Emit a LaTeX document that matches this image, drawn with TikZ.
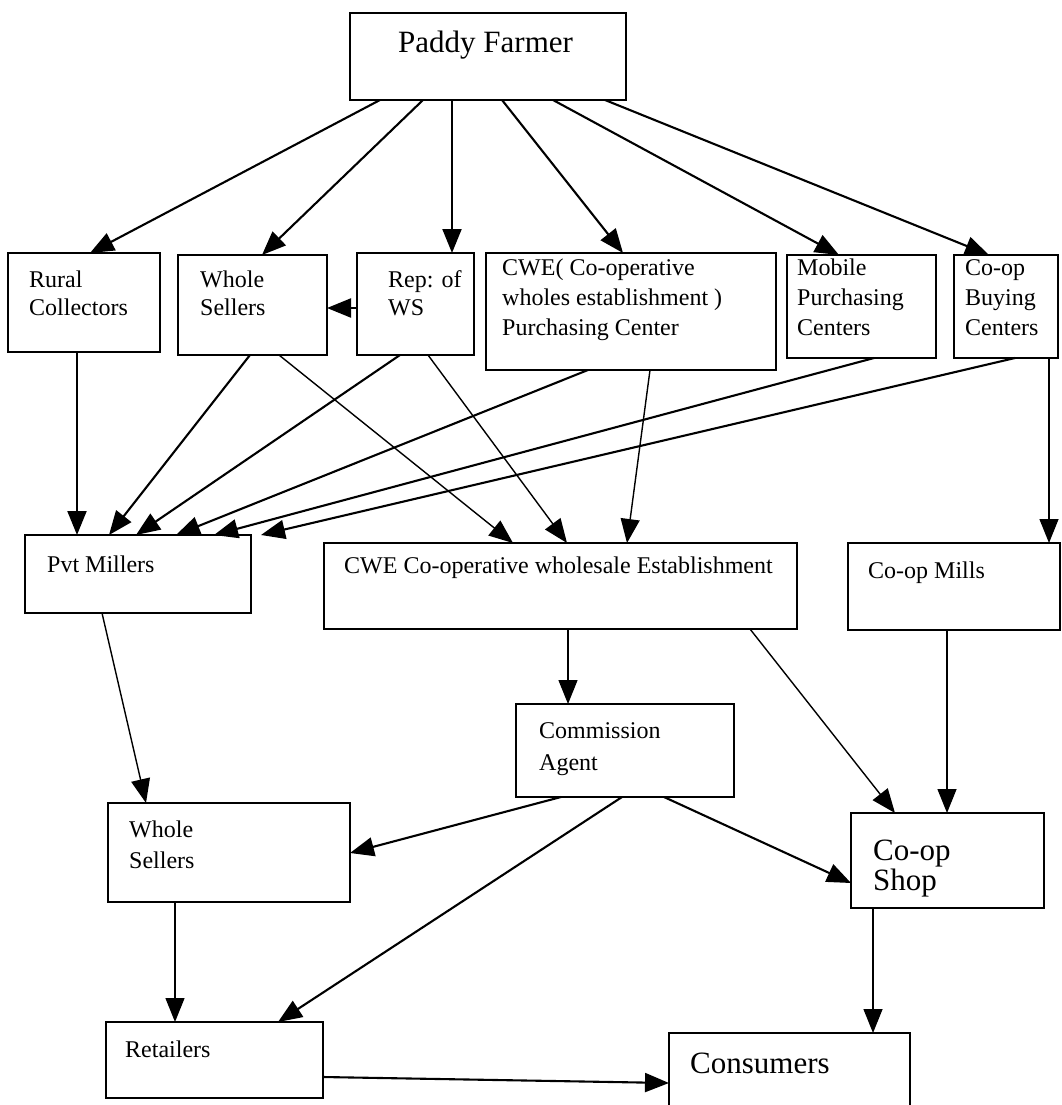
\documentclass[tikz,border=0pt]{standalone}
\usepackage{fontspec}
\setmainfont{Liberation Serif}
\usetikzlibrary{arrows.meta}

\tikzset{
  box/.style={draw, line width=1.8pt, anchor=north west, outer sep=0pt, inner sep=0pt},
  txt/.style={anchor=base west, align=left, inner sep=0pt, font=\fontsize{24}{29}\selectfont},
  bigtxt/.style={txt, font=\fontsize{31}{30}\selectfont},
  flow/.style={line width=2.1pt, -{Triangle[length=24pt,width=19pt]}},
  thinflow/.style={line width=1.4pt, -{Triangle[length=24pt,width=19pt]}}
}

\begin{document}
\begin{tikzpicture}[x=1pt,y=-1pt]
          \useasboundingbox (0,0) rectangle (1062,1105);
          % boxes
          \node[box, minimum width=276pt, minimum height=87pt] (farmer) at (350,13) {};
          \node[box, minimum width=152pt, minimum height=99pt] (rural) at (8,253) {};
          \node[box, minimum width=149pt, minimum height=100pt] (ws1) at (178,255) {};
          \node[box, minimum width=117pt, minimum height=102pt] (rep) at (357,253) {};
          \node[box, minimum width=290pt, minimum height=117pt] (cwepc) at (486,253) {};
          \node[box, minimum width=149pt, minimum height=103pt] (mobile) at (787,255) {};
          \node[box, minimum width=104pt, minimum height=103pt] (coopbuy) at (954,255) {};
          \node[box, minimum width=226pt, minimum height=78pt] (pvt) at (25,535) {};
          \node[box, minimum width=473pt, minimum height=86pt] (cweest) at (324,543) {};
          \node[box, minimum width=212pt, minimum height=87pt] (mills) at (848,543) {};
          \node[box, minimum width=218pt, minimum height=93pt] (agent) at (516,704) {};
          \node[box, minimum width=242pt, minimum height=99pt] (ws2) at (108,803) {};
          \node[box, minimum width=193pt, minimum height=95pt] (shop) at (851,813) {};
          \node[box, minimum width=217pt, minimum height=76pt] (retail) at (106,1022) {};
          \node[box, minimum width=241pt, minimum height=80pt] (consumers) at (669,1033) {};
          % texts (base = last line)
          \node[txt, font=\fontsize{31}{36}\selectfont] (farmertxt) at ([xshift=48pt,yshift=-40pt]farmer.north west) {Paddy Farmer};
          \node[txt, font=\fontsize{24}{28}\selectfont] (ruraltxt) at ([xshift=21pt,yshift=-62pt]rural.north west) {Rural\\Collectors};
          \node[txt, font=\fontsize{24}{28}\selectfont] (ws1txt) at ([xshift=22pt,yshift=-60pt]ws1.north west) {Whole\\Sellers};
          \node[txt, font=\fontsize{24}{28}\selectfont] (reptxt) at ([xshift=31pt,yshift=-62pt]rep.north west) {Rep: of\\WS};
          \node[txt, font=\fontsize{24}{30}\selectfont] (cwepctxt) at ([xshift=16pt,yshift=-82pt]cwepc.north west) {CWE( Co-operative\\wholes establishment )\\Purchasing Center};
          \node[txt, font=\fontsize{24}{30}\selectfont] (mobiletxt) at ([xshift=10pt,yshift=-80pt]mobile.north west) {Mobile\\Purchasing\\Centers};
          \node[txt, font=\fontsize{24}{30}\selectfont] (coopbuytxt) at ([xshift=11pt,yshift=-80pt]coopbuy.north west) {Co-op\\Buying\\Centers};
          \node[txt] (pvttxt) at ([xshift=22pt,yshift=-37pt]pvt.north west) {Pvt Millers};
          \node[txt] (cweesttxt) at ([xshift=20pt,yshift=-30pt]cweest.north west) {CWE Co-operative wholesale Establishment};
          \node[txt] (millstxt) at ([xshift=20pt,yshift=-35pt]mills.north west) {Co-op Mills};
          \node[txt, font=\fontsize{24}{32}\selectfont] (agenttxt) at ([xshift=23pt,yshift=-66pt]agent.north west) {Commission\\Agent};
          \node[txt, font=\fontsize{24}{31}\selectfont] (ws2txt) at ([xshift=21pt,yshift=-65pt]ws2.north west) {Whole\\Sellers};
          \node[bigtxt] (shoptxt) at ([xshift=22pt,yshift=-77pt]shop.north west) {Co-op\\Shop};
          \node[txt] (retailtxt) at ([xshift=19pt,yshift=-35pt]retail.north west) {Retailers};
          \node[bigtxt] (consumerstxt) at ([xshift=21pt,yshift=-40pt]consumers.north west) {Consumers};
          % farmer to first row
          \draw[flow] ([xshift=30pt]farmer.south west) -- ([xshift=82pt]rural.north west);
          \draw[flow] ([xshift=73pt]farmer.south west) -- ([xshift=84pt]ws1.north west);
          \draw[flow] ([xshift=102pt]farmer.south west) -- ([xshift=95pt]rep.north west);
          \draw[flow] ([xshift=152pt]farmer.south west) -- ([xshift=137pt]cwepc.north west);
          \draw[flow] ([xshift=203pt]farmer.south west) -- ([xshift=52pt]mobile.north west);
          \draw[flow] ([xshift=255pt]farmer.south west) -- ([xshift=35pt]coopbuy.north west);
          \draw[flow] ([yshift=-55pt]rep.north west) -- ([yshift=-53pt]ws1.north east);
          % into Pvt Millers
          \draw[flow] ([xshift=69pt]rural.south west) -- ([xshift=52pt]pvt.north west);
          \draw[flow] ([xshift=72pt]ws1.south west) -- ([xshift=84pt]pvt.north west);
          \draw[flow] ([xshift=43pt]rep.south west) -- ([xshift=111pt]pvt.north west);
          \draw[flow] ([xshift=102pt]cwepc.south west) -- ([xshift=151pt]pvt.north west);
          \draw[flow] ([xshift=87pt]mobile.south west) -- ([xshift=189pt]pvt.north west);
          \draw[flow] ([xshift=61pt]coopbuy.south west) -- ([xshift=236pt]pvt.north west);
          % into CWE
          \draw[thinflow] ([xshift=101pt]ws1.south west) -- ([xshift=189pt]cweest.north west);
          \draw[thinflow] ([xshift=71pt]rep.south west) -- ([xshift=243pt]cweest.north west);
          \draw[thinflow] ([xshift=164pt]cwepc.south west) -- ([xshift=303pt]cweest.north west);
          \draw[thinflow] ([xshift=95pt]coopbuy.south west) -- ([xshift=201pt]mills.north west);
          % lower part
          \draw[thinflow] ([xshift=244pt]cweest.south west) -- ([xshift=52pt]agent.north west);
          \draw[thinflow] ([xshift=77pt]pvt.south west) -- ([xshift=38pt]ws2.north west);
          \draw[thinflow] ([xshift=426pt]cweest.south west) -- ([xshift=44pt]shop.north west);
          \draw[thinflow] ([xshift=99pt]mills.south west) -- ([xshift=96pt]shop.north west);
          \draw[flow] ([xshift=45pt]agent.south west) -- ([yshift=-50pt]ws2.north east);
          \draw[flow] ([xshift=106pt]agent.south west) -- ([xshift=172pt]retail.north west);
          \draw[flow] ([xshift=148pt]agent.south west) -- ([yshift=-70pt]shop.north west);
          \draw[thinflow] ([xshift=67pt]ws2.south west) -- ([xshift=69pt]retail.north west);
          \draw[thinflow] ([xshift=22pt]shop.south west) -- ([xshift=204pt]consumers.north west);
          \draw[flow] ([yshift=-55pt]retail.north east) -- ([yshift=-50pt]consumers.north west);
\end{tikzpicture}
\end{document}
